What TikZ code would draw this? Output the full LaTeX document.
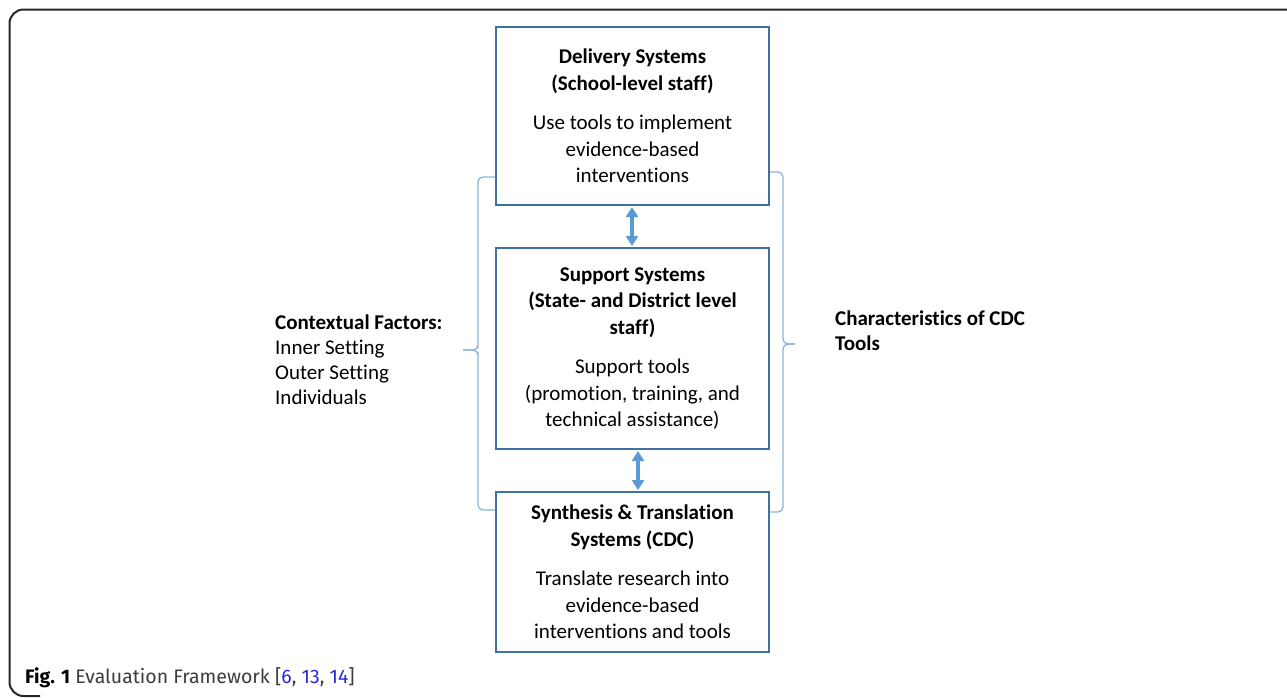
\documentclass[tikz,border=0pt]{standalone}
\usepackage{fontspec}
\setmainfont[Ligatures=NoCommon]{Carlito}
\newfontfamily\capfont{Fira Sans}
\usetikzlibrary{arrows.meta}
\definecolor{boxblue}{RGB}{65,113,156}
\definecolor{arrblue}{RGB}{91,155,213}
\definecolor{braceblue}{RGB}{140,180,220}
\definecolor{capgray}{RGB}{60,60,60}
\definecolor{linkblue}{RGB}{40,40,220}
\tikzset{
  sysbox/.style={draw=boxblue, line width=2pt, minimum width=273pt, inner sep=0pt, align=center,
    font=\fontsize{21}{26.5}\selectfont},
  dblarrow/.style={arrblue, line width=3.5pt, {Triangle[width=12pt,length=10pt]}-{Triangle[width=12pt,length=10pt]}, shorten <=1pt, shorten >=1pt},
  bracepath/.style={braceblue, line width=1.3pt, rounded corners=5pt},
  sidetext/.style={align=left, inner sep=0pt, anchor=north west},
}
\begin{document}
\begin{tikzpicture}[x=1pt,y=-1pt]
\useasboundingbox (0,0) rectangle (1287,697);
% outer frame
\draw[line width=2pt, black!85, rounded corners=14pt] (1300,9.5) -- (9.5,9.5) -- (9.5,696) -- (40,696);
% boxes
\node[sysbox, minimum height=178pt] (deliv) at (632.5,116) {\textbf{Delivery Systems}\\\textbf{(School-level staff)}\\[13pt]Use tools to implement\\evidence-based\\interventions};
\node[sysbox, minimum height=201pt] (supp) at (632.5,348.5) {\textbf{Support Systems}\\\textbf{(State- and District level}\\\textbf{staff)}\\[13pt]Support tools\\(promotion, training, and\\technical assistance)};
\node[sysbox, minimum height=160pt] (synth) at (632.5,572) {\textbf{Synthesis \& Translation}\\\textbf{Systems (CDC)}\\[13pt]Translate research into\\evidence-based\\interventions and tools};
% arrows
\draw[dblarrow] (deliv.south -| 632,0) -- (supp.north -| 632,0);
\draw[dblarrow] (supp.south -| 638,0) -- (synth.north -| 638,0);
% braces
\coordinate (lt) at (deliv.west |- 0,177);
\coordinate (lb) at (synth.west |- 0,510);
\coordinate (ltip) at (463,350);
\draw[bracepath] (lt) -- (478,177) -- (478,343) -- (ltip -| 478,0) -- (ltip);
\draw[bracepath] (ltip) -- (478,350) -- (478,357) -- (478,510) -- (lb);
\coordinate (rt) at (deliv.east |- 0,172);
\coordinate (rb) at (synth.east |- 0,512);
\coordinate (rtip) at (795,344);
\draw[bracepath] (rt) -- (783,172) -- (783,344) -- (rtip);
\draw[bracepath] (rtip) -- (783,344) -- (783,512) -- (rb);
% side texts
\node[sidetext, font=\fontsize{21}{25}\selectfont] (ctx) at (275,315) {\textbf{Contextual Factors:}\\Inner Setting\\Outer Setting\\Individuals};
\node[sidetext, font=\fontsize{21}{25}\selectfont] (chars) at (835,311) {\textbf{Characteristics of CDC}\\\textbf{Tools}};
% caption
\node[anchor=west, inner sep=0pt, font=\capfont\fontsize{19.5}{22}\selectfont, text=capgray] (cap) at (25,678) {\textbf{\color{black}Fig. 1} Evaluation Framework [{\color{linkblue}6}, {\color{linkblue}13}, {\color{linkblue}14}]};
\end{tikzpicture}
\end{document}
